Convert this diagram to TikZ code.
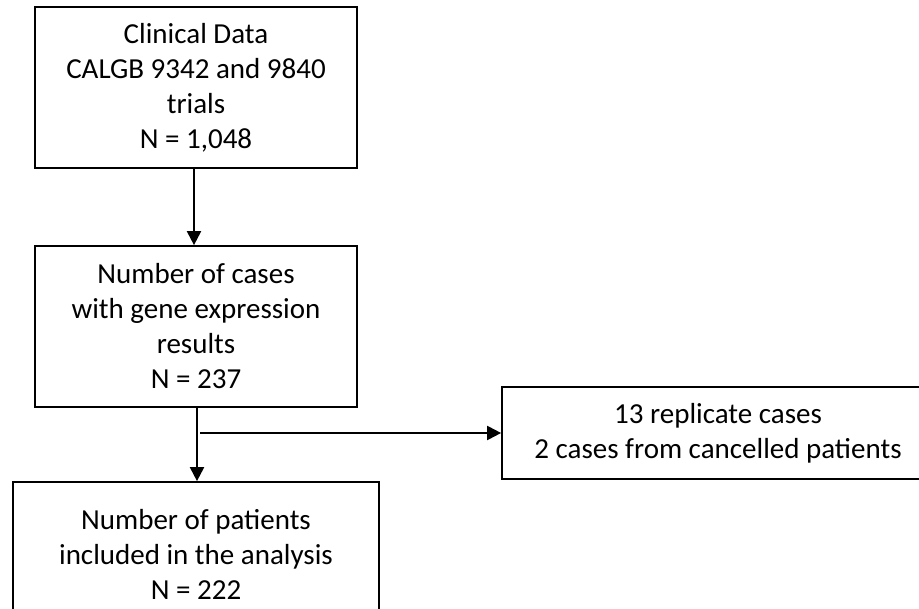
\documentclass[tikz,border=0pt]{standalone}
\usepackage{fontspec}
\setmainfont{Carlito}
\usetikzlibrary{arrows.meta}
\begin{document}
\begin{tikzpicture}[x=1pt,y=-1pt,
  box/.style={draw, line width=1.7pt, align=center, inner sep=0pt,
    font=\fontsize{29}{35}\selectfont},
  conn/.style={line width=2pt, -{Triangle[width=14pt,length=14pt]}}]
\useasboundingbox (0,0) rectangle (919,609);
\begin{scope}
\clip (0,0) rectangle (919,609);
\node[box, minimum width=322pt, minimum height=161pt] (b1) at (196,87.5)
  {Clinical Data\\CALGB 9342 and 9840\\trials\\N = 1,048};
\node[box, minimum width=322pt, minimum height=161pt] (b2) at (196,326.5)
  {Number of cases\\with gene expression\\results\\N = 237};
\node[box, minimum width=366pt, minimum height=144pt] (b4) at (196,554)
  {Number of patients\\included in the analysis\\N = 222};
\node[box, minimum width=432pt, minimum height=92pt] (b3) at (718,433)
  {13 replicate cases\\2 cases from cancelled patients};
\coordinate (t1) at (194,0);
\coordinate (t2) at (197,0);
\coordinate (br) at (200,433);
\draw[conn] (b1.south -| t1) -- (b2.north -| t1);
\draw[conn] (b2.south -| t2) -- (b4.north -| t2);
\draw[conn] (br) -- (b3.west);
\end{scope}
\end{tikzpicture}
\end{document}
